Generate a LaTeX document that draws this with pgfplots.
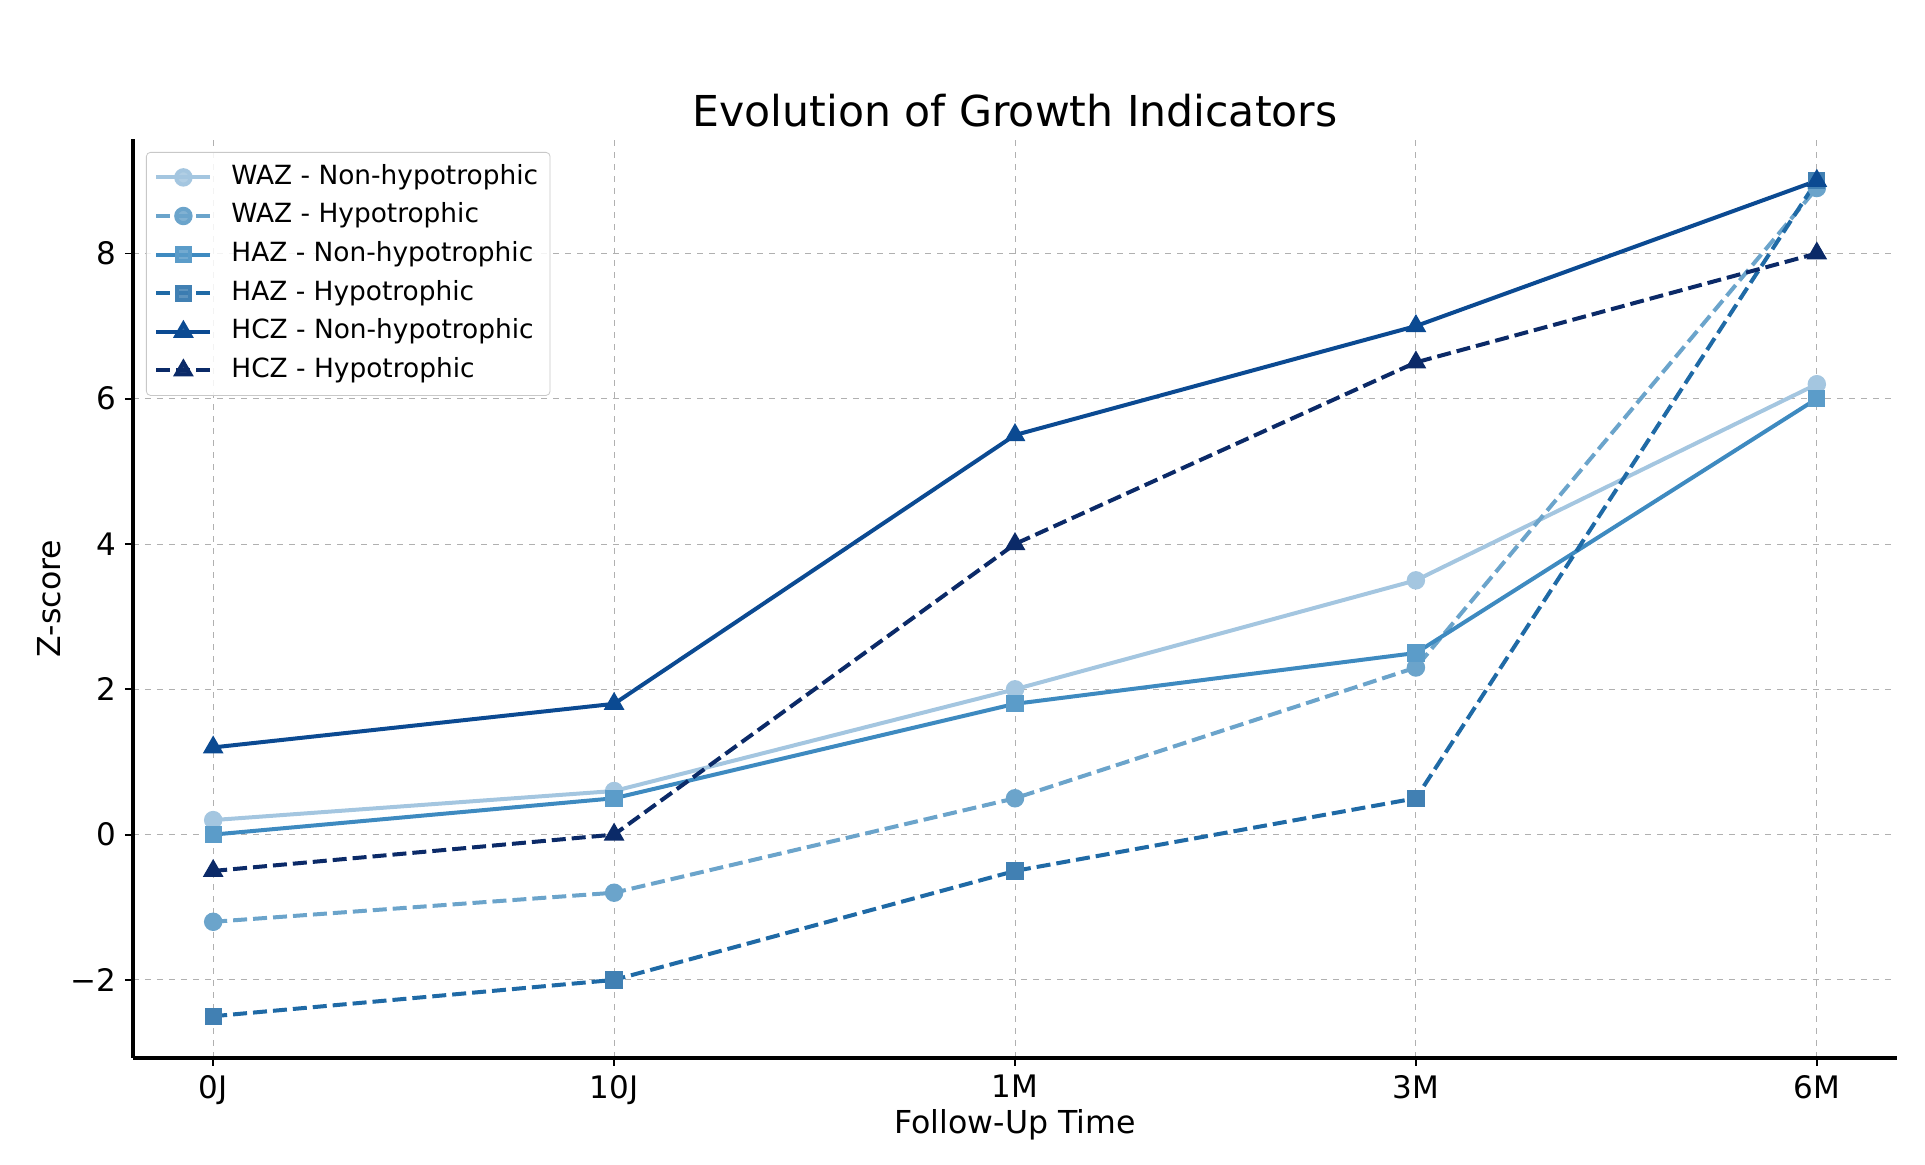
\documentclass[border=0pt]{standalone}
\usepackage{pgfplots}
\pgfplotsset{compat=1.18}
\usepackage{fontspec}
\setmainfont{DejaVu Sans}

% Blues palette, light to dark
\definecolor{wazN}{HTML}{A4C6E0}
\definecolor{wazH}{HTML}{6BA4CB}
\definecolor{hazN}{HTML}{3E8AC0}
\definecolor{hazH}{HTML}{1F6AA6}
\definecolor{hczN}{HTML}{0B4A92}
\definecolor{hczH}{HTML}{0B2A68}
\definecolor{gridgray}{HTML}{B0B0B0}

\tikzset{dashline/.style={dash pattern=on 7pt off 3pt}}

\begin{document}
\begin{tikzpicture}
% overall page frame
\useasboundingbox (-66.5pt,-53.5pt) rectangle (896pt,529pt);
\begin{axis}[
  at={(0,0)}, anchor=south west,
  scale only axis,
  width=882pt, height=459.5pt,
  xmin=-0.2, xmax=4.2,
  ymin=-3.075, ymax=9.575,
  xtick={0,1,2,3,4},
  xticklabels={0J,10J,1M,3M,6M},
  ytick={-2,0,2,4,6,8},
  yticklabels={−2,0,2,4,6,8},
  tick align=outside,
  tick pos=left,
  major tick length=4pt,
  tick style={black, line width=0.9pt},
  axis x line*=bottom,
  axis y line*=left,
  axis line style={black, line width=1.6pt, -},
  grid=major,
  grid style={gridgray, dashed, line width=0.5pt},
  ticklabel style={font=\fontsize{15.5pt}{18pt}\selectfont},
  /pgf/number format/assume math mode=true,
  xticklabel style={yshift=-1pt},
  yticklabel style={xshift=-1pt},
  xlabel={Follow-Up Time},
  ylabel={Z-score},
  label style={font=\fontsize{15.8pt}{19pt}\selectfont},
  xlabel style={yshift=4.5pt},
  ylabel style={yshift=-2pt},
  title={Evolution of Growth Indicators},
  title style={font=\fontsize{21.3pt}{25pt}\selectfont, yshift=-3.5pt},
  legend cell align=left,
  legend image code/.code={%
    \draw[mark repeat=2, mark phase=2] plot coordinates {(0pt,0pt) (13.5pt,0pt) (27pt,0pt)};},
  legend style={
    at={(0,1)}, anchor=north west, xshift=6.5pt, yshift=-6.5pt,
    draw=gridgray!70, rounded corners=2pt, fill=white, fill opacity=0.85, text opacity=1,
    font=\fontsize{13.2pt}{15pt}\selectfont,
    inner xsep=4pt, inner ysep=3pt,
    row sep=0.3pt,
    nodes={text height=10pt, text depth=3pt, inner ysep=3pt},
    /tikz/every odd column/.append style={column sep=7.5pt}
  },
]
\addplot[wazN, line width=2pt, mark=*, mark size=3.6pt, mark options={solid, fill=wazN, draw=wazN}]
  coordinates {(0,0.2) (1,0.6) (2,2.0) (3,3.5) (4,6.2)};
\addlegendentry{WAZ - Non-hypotrophic}
\addplot[wazH, line width=2pt, dashline, mark=*, mark size=3.6pt, mark options={solid, fill=wazH, draw=wazH}]
  coordinates {(0,-1.2) (1,-0.8) (2,0.5) (3,2.3) (4,8.9)};
\addlegendentry{WAZ - Hypotrophic}
\addplot[hazN, line width=2pt, mark=square*, mark size=3.3pt, mark options={solid, fill=hazN!85!white, draw=hazN!85!white}]
  coordinates {(0,0) (1,0.5) (2,1.8) (3,2.5) (4,6.0)};
\addlegendentry{HAZ - Non-hypotrophic}
\addplot[hazH, line width=2pt, dashline, mark=square*, mark size=3.3pt, mark options={solid, fill=hazH!85!white, draw=hazH!85!white}]
  coordinates {(0,-2.5) (1,-2.0) (2,-0.5) (3,0.5) (4,9.0)};
\addlegendentry{HAZ - Hypotrophic}
\addplot[hczN, line width=2pt, mark=triangle*, mark size=4pt, mark options={solid, fill=hczN, draw=hczN}]
  coordinates {(0,1.2) (1,1.8) (2,5.5) (3,7.0) (4,9.0)};
\addlegendentry{HCZ - Non-hypotrophic}
\addplot[hczH, line width=2pt, dashline, mark=triangle*, mark size=4pt, mark options={solid, fill=hczH, draw=hczH}]
  coordinates {(0,-0.5) (1,0) (2,4.0) (3,6.5) (4,8.0)};
\addlegendentry{HCZ - Hypotrophic}
\end{axis}
\end{tikzpicture}
\end{document}
